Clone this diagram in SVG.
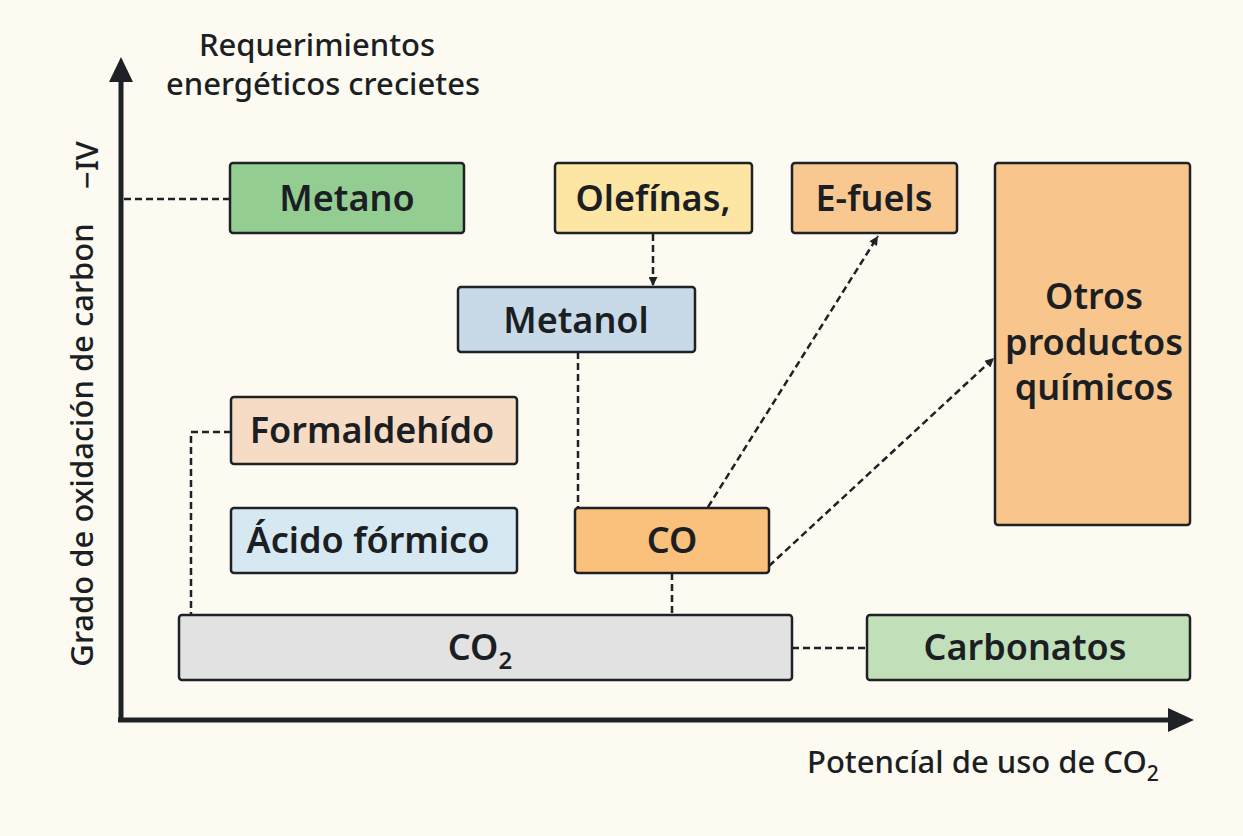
<svg xmlns="http://www.w3.org/2000/svg" width="1243" height="836" viewBox="0 0 1243 836">
<defs>
<style>
.n{stroke:#1e2226;stroke-width:2.5}
.t{font-family:"Noto Sans","Open Sans",sans-serif;font-weight:600;font-size:36px;fill:#1b1f24;text-anchor:middle}
.a{font-family:"Noto Sans","Open Sans",sans-serif;font-weight:500;font-size:31px;fill:#1b1f24}
.d{fill:none;stroke:#1e2226;stroke-width:2.5;stroke-dasharray:7 4}
</style>
<marker id="ah" viewBox="0 0 10 10" refX="10" refY="5" markerWidth="10" markerHeight="9" orient="auto" markerUnits="userSpaceOnUse">
<path d="M0,0 L10,5 L0,10 z" fill="#1e2226"/>
</marker>
</defs>
<rect width="1243" height="836" fill="#fdfaf2"/>
<g id="axes">
<line x1="121" y1="722" x2="121" y2="78" stroke="#1e2226" stroke-width="5"/>
<path d="M109,82 L121,57 L133,82 z" fill="#1e2226"/>
<line x1="118" y1="720" x2="1172" y2="720" stroke="#1e2226" stroke-width="5"/>
<path d="M1168,708 L1194,720 L1168,732 z" fill="#1e2226"/>
<text class="a" x="317" y="56" text-anchor="middle">Requerimientos</text>
<text class="a" x="323" y="95" text-anchor="middle">energéticos crecietes</text>
<text class="a" transform="translate(93,445) rotate(-90)" text-anchor="middle">Grado de oxidación de carbon</text>
<text class="a" transform="translate(98,165) rotate(-90)" text-anchor="middle">−IV</text>
<text class="a" x="807" y="773">Potencíal de uso de CO<tspan font-size="21" dy="8">2</tspan></text>
</g>
<g id="connectors">
<line class="d" x1="124" y1="199" x2="230" y2="199"/>
<path class="d" d="M231,432 H191 V615"/>
<line class="d" x1="653" y1="234" x2="653" y2="286" marker-end="url(#ah)"/>
<line class="d" x1="578" y1="352" x2="578" y2="508"/>
<line class="d" x1="708" y1="507" x2="878" y2="236" marker-end="url(#ah)"/>
<line class="d" x1="769" y1="566" x2="994" y2="358" marker-end="url(#ah)"/>
<line class="d" x1="672" y1="573" x2="672" y2="615"/>
<line class="d" x1="792" y1="648" x2="867" y2="648"/>
</g>
<g id="metano"><rect class="n" x="230" y="163" width="234" height="70" rx="3" fill="#93cd91"/><text class="t" x="347" y="211">Metano</text></g>
<g id="olefinas"><rect class="n" x="555" y="163" width="197" height="70" rx="3" fill="#fde6a3"/><text class="t" x="653" y="211">Olefínas,</text></g>
<g id="efuels"><rect class="n" x="792" y="163" width="165" height="70" rx="3" fill="#f8c890"/><text class="t" x="874" y="211">E-fuels</text></g>
<g id="otros"><rect class="n" x="995" y="163" width="195" height="362" rx="3" fill="#f8c68d"/><text class="t" x="1094" y="309">Otros</text><text class="t" x="1094" y="355">productos</text><text class="t" x="1094" y="400">químicos</text></g>
<g id="metanol"><rect class="n" x="458" y="287" width="237" height="65" rx="3" fill="#c8d9e8"/><text class="t" x="576" y="333">Metanol</text></g>
<g id="formaldehido"><rect class="n" x="231" y="397" width="286" height="67" rx="3" fill="#f7dcc5"/><text class="t" x="372" y="443">Formaldehído</text></g>
<g id="acido"><rect class="n" x="231" y="508" width="286" height="65" rx="3" fill="#d6e8f2"/><text class="t" x="368" y="553">Ácido fórmico</text></g>
<g id="co"><rect class="n" x="575" y="508" width="194" height="65" rx="3" fill="#f9c17c"/><text class="t" x="672" y="553">CO</text></g>
<g id="co2"><rect class="n" x="179" y="615" width="613" height="65" rx="3" fill="#e3e2e3"/><text class="t" x="480" y="660">CO<tspan font-size="24" dy="9">2</tspan></text></g>
<g id="carbonatos"><rect class="n" x="867" y="615" width="323" height="65" rx="3" fill="#c1dfb9"/><text class="t" x="1025" y="660">Carbonatos</text></g>
</svg>
